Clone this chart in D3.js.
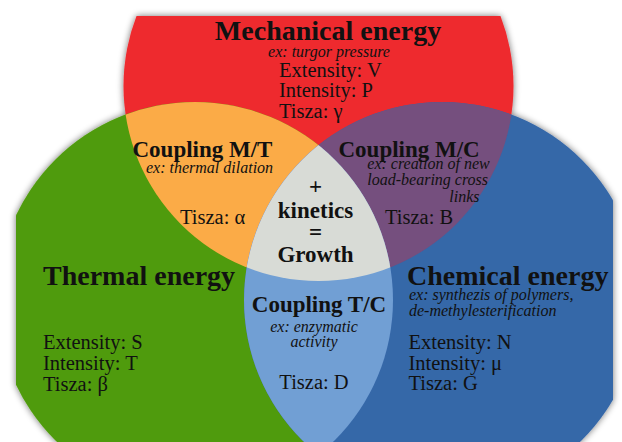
<!DOCTYPE html>
<html><head><meta charset="utf-8">
<script src="https://cdn.jsdelivr.net/npm/d3@7"></script>
<style>
html,body{margin:0;padding:0;background:#fff;}
svg{display:block;}
text{font-family:"Liberation Serif","Times New Roman",serif;fill:#111;}
</style>
</head><body>
<svg id="chart" width="622" height="442"></svg>
<script>
// ---------- data ----------
const energies = ["Mechanical energy", "Thermal energy", "Chemical energy"];
const energyExamples = [["ex: turgor pressure"], [], ["ex: synthezis of polymers,", "de-methylesterification"]];
const extensities = ["V", "S", "N"];
const intensities = ["P", "T", "μ"];
const tiszaEnergy = ["γ", "β", "G"];
const couplings = ["Coupling M/T", "Coupling M/C", "Coupling T/C"];
const couplingExamples = [["ex: thermal dilation"], ["ex: creation of new", "load-bearing cross", "links"], ["ex: enzymatic", "activity"]];
const tiszaCoupling = ["α", "B", "D"];
const centerLines = ["+", "kinetics", "=", "Growth"];

// ---------- layout ----------
const W = 622, H = 442;
const circles = [
  {key: "M", cx: 318.5, cy: 86, r: 195, fill: "#ee2a2e"},
  {key: "T", cx: 195, cy: 300, r: 198, fill: "#4f9b0a"},
  {key: "C", cx: 442, cy: 300, r: 198, fill: "#3667a8"}
];
const colMT = "#fbab47", colMC = "#744f7e", colTC = "#719fd4", colAll = "#d8dbd6";
const frame = {x: 16, y: 16, w: 597, h: 440};

const svg = d3.select("#chart");
const defs = svg.append("defs");

const f = defs.append("filter").attr("id", "shadow")
  .attr("x", "-5%").attr("y", "-5%").attr("width", "110%").attr("height", "110%");
f.append("feGaussianBlur").attr("in", "SourceAlpha").attr("stdDeviation", 3.5).attr("result", "blur");
f.append("feComponentTransfer").attr("in", "blur").attr("result", "sh")
  .append("feFuncA").attr("type", "linear").attr("slope", 0.55);
const fm = f.append("feMerge");
fm.append("feMergeNode").attr("in", "sh");
fm.append("feMergeNode").attr("in", "SourceGraphic");

defs.append("clipPath").attr("id", "clipFrame").append("rect")
  .attr("x", frame.x).attr("y", frame.y).attr("width", frame.w).attr("height", frame.h);
defs.selectAll("clipPath.c").data(circles).enter().append("clipPath")
  .attr("class", "c").attr("id", d => "clip" + d.key)
  .append("circle").attr("cx", d => d.cx).attr("cy", d => d.cy).attr("r", d => d.r);

const outer = svg.append("g").attr("filter", "url(#shadow)");
const g = outer.append("g").attr("clip-path", "url(#clipFrame)");

const byKey = k => circles.find(c => c.key === k);
function circ(sel, c, fill) {
  return sel.append("circle").attr("cx", c.cx).attr("cy", c.cy).attr("r", c.r).attr("fill", fill);
}
g.selectAll("circle.base").data(circles).enter().append("circle").attr("class", "base")
  .attr("cx", d => d.cx).attr("cy", d => d.cy).attr("r", d => d.r).attr("fill", d => d.fill);

circ(g.append("g").attr("clip-path", "url(#clipM)"), byKey("T"), colMT);
circ(g.append("g").attr("clip-path", "url(#clipM)"), byKey("C"), colMC);
circ(g.append("g").attr("clip-path", "url(#clipT)"), byKey("C"), colTC);
circ(g.append("g").attr("clip-path", "url(#clipM)").append("g").attr("clip-path", "url(#clipT)"), byKey("C"), colAll);

// ---------- text ----------
const T = svg.append("g");
function txt(s, x, y, size, opts = {}) {
  return T.append("text").attr("x", x).attr("y", y).text(s)
    .attr("font-size", size)
    .attr("font-weight", opts.bold ? "bold" : "normal")
    .attr("font-style", opts.italic ? "italic" : "normal")
    .attr("text-anchor", opts.anchor || "start");
}

// energy blocks
const energyLayout = [
  {tx: 328, ty: 39.5, ta: "middle", ex: 329, exY: [56.5], ea: "middle", px: 279, pY: [77, 97.3, 117.5]},
  {tx: 43, ty: 284.5, ta: "start", ex: 43, exY: [], ea: "start", px: 43, pY: [349.3, 370, 391]},
  {tx: 407, ty: 284.5, ta: "start", ex: 409, exY: [300, 315.5], ea: "start", px: 408.5, pY: [348.5, 369.5, 390]}
];
energies.forEach((name, i) => {
  const L = energyLayout[i];
  txt(name, L.tx, L.ty, 28, {bold: true, anchor: L.ta});
  energyExamples[i].forEach((e, j) => txt(e, L.ex, L.exY[j], 16, {italic: true, anchor: L.ea}));
  const props = ["Extensity: " + extensities[i], "Intensity: " + intensities[i], "Tisza: " + tiszaEnergy[i]];
  props.forEach((p, j) => txt(p, L.px, L.pY[j], 20.5));
});

// coupling blocks
const couplingLayout = [
  {tx: 132.5, ty: 156.7, ta: "start", ex: [146], exY: [173.3], ea: "start", zx: 180, zy: 224, za: "start"},
  {tx: 338.5, ty: 156.7, ta: "start", ex: [367.3, 367.3, 449.3], exY: [169.3, 185, 201.7], ea: "start", zx: 385, zy: 224, za: "start"},
  {tx: 319, ty: 311.7, ta: "middle", ex: [314, 314], exY: [331.7, 346.7], ea: "middle", zx: 314, zy: 389, za: "middle"}
];
couplings.forEach((name, i) => {
  const L = couplingLayout[i];
  txt(name, L.tx, L.ty, 23, {bold: true, anchor: L.ta});
  couplingExamples[i].forEach((e, j) => txt(e, L.ex[j], L.exY[j], 16, {italic: true, anchor: L.ea}));
  txt("Tisza: " + tiszaCoupling[i], L.zx, L.zy, 20.5, {anchor: L.za});
});

// center
const centerY = [194, 218.3, 240, 261.7];
centerLines.forEach((s, i) => txt(s, 315.5, centerY[i], 23, {bold: true, anchor: "middle"}));
</script>
</body></html>
